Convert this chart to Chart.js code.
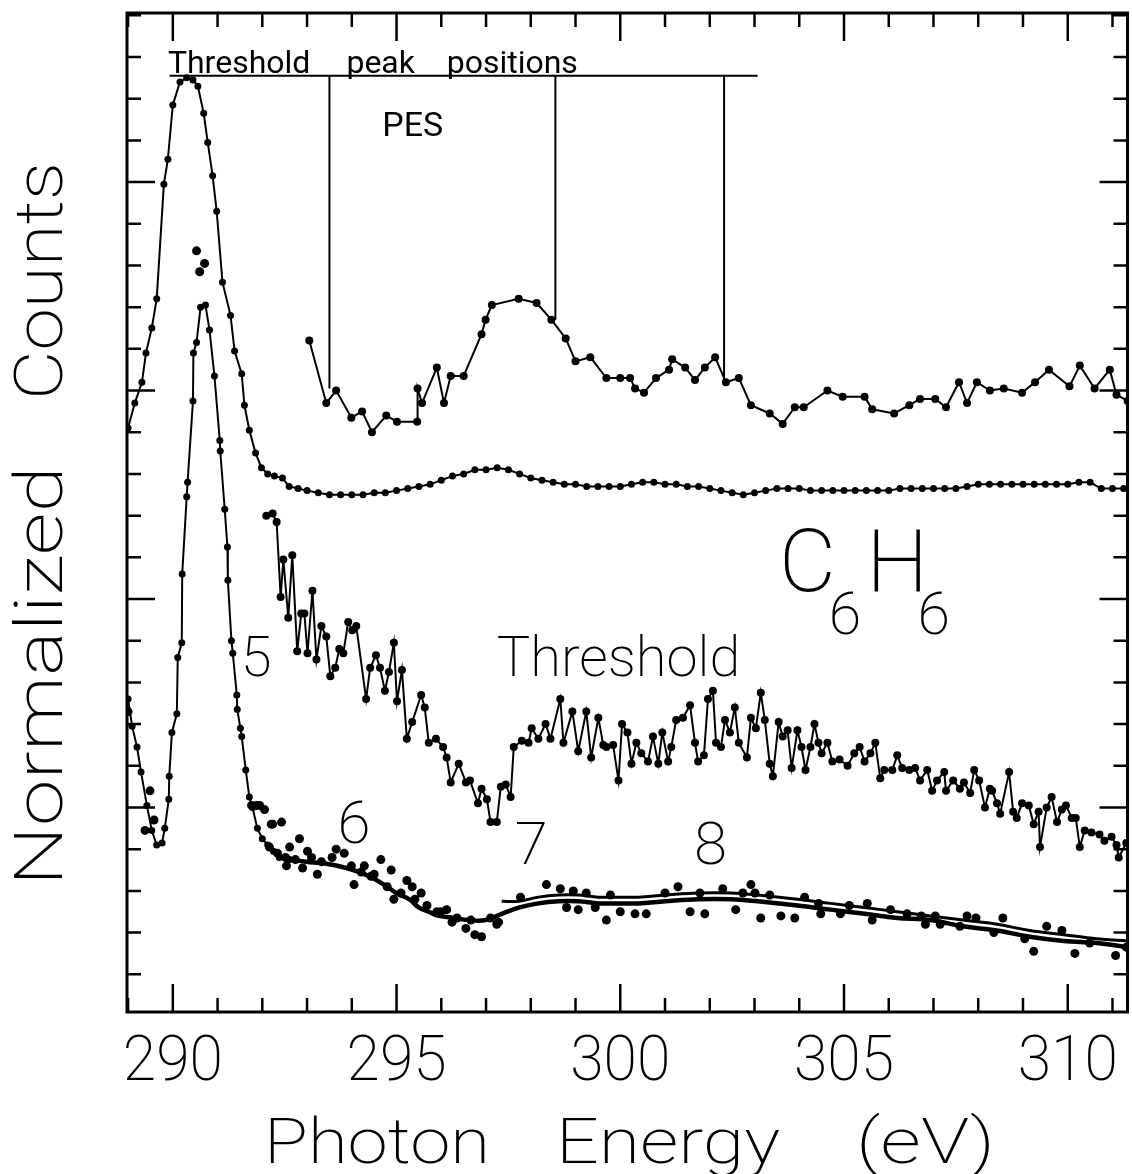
<!DOCTYPE html>
<html>
<head>
<meta charset="utf-8">
<title>C6H6 photon energy scan</title>
<script src="https://cdn.jsdelivr.net/npm/chart.js@4.4.1/dist/chart.umd.min.js"></script>
<style>
  html, body { margin: 0; padding: 0; background: #fff; }
  canvas { display: block; }
</style>
</head>
<body>
<canvas id="spectrum" width="1132" height="1174"></canvas>
<script>
// photon energy (eV) / normalized counts, one pair of arrays per trace

// total yield: big resonance then the flat continuum
const totalE = [289.00, 289.15, 289.31, 289.40, 289.53, 289.64, 289.80, 289.89, 290.00, 290.16,
  290.31, 290.45, 290.56, 290.69, 290.78, 290.89, 290.98, 291.11, 291.29, 291.38,
  291.54, 291.60, 291.71, 291.85, 291.98, 292.12, 292.27, 292.45,
  292.60, 292.80, 293.00, 293.25, 293.50, 293.75, 294.00, 294.25, 294.50, 294.75,
  295.00, 295.25, 295.50, 295.75, 296.00, 296.25, 296.50, 296.75, 297.00, 297.25,
  297.50, 297.75, 298.00, 298.25, 298.50, 298.75, 299.00, 299.25, 299.50, 299.75,
  300.00, 300.25, 300.50, 300.75, 301.00, 301.25, 301.50, 301.75, 302.00, 302.25,
  302.50, 302.75, 303.00, 303.25, 303.50, 303.75, 304.00, 304.25, 304.50, 304.75,
  305.00, 305.25, 305.50, 305.75, 306.00, 306.25, 306.50, 306.75, 307.00, 307.25,
  307.50, 307.75, 308.00, 308.25, 308.50, 308.75, 309.00, 309.25, 309.50, 309.75,
  310.00, 310.25, 310.50, 310.75, 311.00, 311.25];
const totalY = [2.82, 2.94, 3.04, 3.18, 3.30, 3.44, 3.99, 4.11, 4.37, 4.48,
  4.50, 4.49, 4.46, 4.33, 4.19, 4.03, 3.86, 3.52, 3.36, 3.19,
  3.08, 2.93, 2.81, 2.70, 2.63, 2.60, 2.59, 2.58,
  2.54, 2.53, 2.52, 2.51, 2.50, 2.50, 2.50, 2.50, 2.51, 2.51,
  2.52, 2.53, 2.54, 2.55, 2.57, 2.59, 2.60, 2.62, 2.62, 2.63,
  2.62, 2.60, 2.58, 2.57, 2.56, 2.55, 2.55, 2.54, 2.54, 2.54,
  2.54, 2.55, 2.56, 2.56, 2.55, 2.55, 2.54, 2.54, 2.53, 2.52,
  2.51, 2.50, 2.51, 2.52, 2.53, 2.53, 2.53, 2.52, 2.52, 2.52,
  2.52, 2.52, 2.52, 2.52, 2.52, 2.53, 2.53, 2.53, 2.53, 2.53,
  2.53, 2.54, 2.55, 2.55, 2.55, 2.55, 2.55, 2.55, 2.55, 2.55,
  2.55, 2.56, 2.56, 2.53, 2.53, 2.53];

// lower trace: resonance measured point by point
const peakE = [289.00, 289.09, 289.20, 289.29, 289.42, 289.53, 289.64, 289.76, 289.82, 289.91,
  289.92, 289.98, 290.09, 290.11, 290.20, 290.21, 290.31, 290.33, 290.45, 290.46,
  290.53, 290.62, 290.73, 290.82, 290.93, 291.05, 291.06, 291.16, 291.22, 291.23,
  291.31, 291.34, 291.43, 291.44, 291.51, 291.54, 291.63, 291.71, 291.78, 291.89,
  292.00, 292.12, 292.25, 292.38, 292.61];
const peakY = [1.52, 1.39, 1.29, 1.17, 1.01, 0.89, 0.82, 0.83, 0.90, 1.04,
  1.15, 1.36, 1.45, 1.72, 1.79, 2.12, 2.49, 2.56, 2.95, 3.18,
  3.23, 3.40, 3.41, 3.29, 3.07, 2.76, 2.71, 2.43, 2.25, 2.09,
  1.80, 1.74, 1.54, 1.47, 1.38, 1.34, 1.18, 1.05, 1.00, 0.90,
  0.85, 0.82, 0.79, 0.76, 0.75];

// lower trace: smooth curves through the scattered points
const fitE = [292.61, 292.98, 293.43, 293.88, 294.16, 294.39, 294.72, 294.99, 295.28, 295.50,
  295.72, 295.95, 296.28, 296.61, 296.99, 297.35, 297.73, 298.17, 298.62, 299.06,
  299.51, 299.96, 300.40, 301.00, 301.74, 302.47, 303.07, 303.96, 304.70, 305.46,
  306.19, 306.93, 307.66, 308.42, 309.15, 309.91, 310.65, 311.34];
const fitY = [0.75, 0.74, 0.73, 0.71, 0.69, 0.67, 0.63, 0.59, 0.56, 0.52,
  0.50, 0.48, 0.47, 0.46, 0.46, 0.49, 0.52, 0.54, 0.55, 0.55,
  0.54, 0.54, 0.54, 0.55, 0.56, 0.56, 0.55, 0.53, 0.51, 0.49,
  0.47, 0.46, 0.43, 0.41, 0.38, 0.36, 0.35, 0.33];
const fit2E = [297.35, 297.73, 298.17, 298.62, 299.06, 299.51, 299.96, 300.40, 301.00, 301.74,
  302.47, 303.07, 303.96, 304.70, 305.46, 306.19, 306.93, 307.66, 308.42, 309.15,
  309.91, 310.65, 311.34];
const fit2Y = [0.55, 0.55, 0.57, 0.58, 0.58, 0.57, 0.57, 0.57, 0.58, 0.59,
  0.59, 0.58, 0.56, 0.54, 0.52, 0.50, 0.48, 0.46, 0.44, 0.41,
  0.39, 0.37, 0.36];

// lower trace: individual points
const scatE = [290.53, 290.60, 290.71, 289.00, 289.38, 289.49, 289.58, 291.76, 291.87, 291.94,
  292.05, 292.20, 292.23, 292.43, 292.54, 292.61, 292.83, 292.90, 293.01, 293.23,
  293.65, 293.83, 294.05, 294.28, 294.50, 294.65, 294.88, 294.94, 295.23, 295.35,
  295.55, 295.90, 296.12, 296.24, 296.55, 296.75, 296.90, 297.24, 297.28, 297.77,
  298.35, 298.66, 298.80, 298.95, 299.06, 299.24, 299.44, 299.69, 299.78, 300.00,
  300.33, 300.58, 301.00, 301.29, 301.56, 301.78, 301.89, 302.29, 302.58, 302.74,
  302.92, 303.01, 303.14, 303.34, 303.59, 303.90, 304.12, 304.43, 304.48, 304.92,
  305.12, 305.52, 305.63, 306.04, 306.41, 306.73, 306.82, 307.04, 307.15, 307.59,
  307.75, 307.95, 308.35, 308.55, 309.04, 309.24, 309.53, 309.87, 310.16, 310.49,
  311.07, 311.31,
  292.16, 292.34, 292.52, 292.74, 293.10, 293.32, 293.56, 293.99, 294.21, 294.43,
  294.79, 295.10, 295.41, 295.68, 295.99, 296.35, 296.66, 297.10];
const scatY = [3.67, 3.57, 3.61, 1.46, 0.89, 1.08, 0.94, 1.01, 1.01, 1.01,
  0.99, 0.92, 0.92, 0.93, 0.72, 0.81, 0.85, 0.71, 0.79, 0.68,
  0.80, 0.78, 0.63, 0.72, 0.68, 0.75, 0.70, 0.56, 0.65, 0.62,
  0.59, 0.50, 0.51, 0.45, 0.42, 0.39, 0.38, 0.44, 0.45, 0.57,
  0.63, 0.61, 0.52, 0.60, 0.51, 0.59, 0.52, 0.46, 0.58, 0.50,
  0.49, 0.49, 0.59, 0.62, 0.50, 0.59, 0.49, 0.61, 0.51, 0.59,
  0.63, 0.59, 0.47, 0.58, 0.48, 0.47, 0.57, 0.54, 0.49, 0.49,
  0.53, 0.54, 0.46, 0.51, 0.49, 0.48, 0.44, 0.48, 0.44, 0.43,
  0.48, 0.47, 0.40, 0.47, 0.37, 0.31, 0.43, 0.41, 0.30, 0.35,
  0.29, 0.33,
  0.81, 0.78, 0.76, 0.75, 0.76, 0.74, 0.76, 0.72, 0.69, 0.67,
  0.62, 0.59, 0.56, 0.53, 0.50, 0.47, 0.46, 0.47];

// photoelectron spectrum
const pesE = [293.05, 293.43, 293.65, 293.99, 294.23, 294.45, 294.77, 295.01, 295.46, 295.47,
  295.57, 295.90, 296.06, 296.21, 296.50, 296.90, 296.99, 297.13, 297.73, 298.13,
  298.46, 298.78, 299.00, 299.33, 299.69, 300.00, 300.22, 300.33, 300.53, 300.80,
  301.09, 301.16, 301.45, 301.67, 301.89, 302.12, 302.36, 302.65, 302.92, 303.34,
  303.63, 303.90, 304.10, 304.63, 304.97, 305.46, 305.63, 306.12, 306.46, 306.70,
  307.04, 307.28, 307.57, 307.75, 307.97, 308.26, 308.57, 308.98, 309.27, 309.58,
  310.04, 310.27, 310.60, 310.94, 311.09, 311.34];
const pesY = [3.24, 2.94, 3.00, 2.87, 2.90, 2.80, 2.88, 2.85, 2.85, 3.01,
  2.94, 3.11, 2.94, 3.07, 3.07, 3.27, 3.34, 3.41, 3.44, 3.42,
  3.34, 3.25, 3.14, 3.16, 3.06, 3.06, 3.06, 3.01, 2.99, 3.06,
  3.10, 3.15, 3.11, 3.05, 3.11, 3.16, 3.04, 3.06, 2.93, 2.89,
  2.84, 2.92, 2.92, 3.00, 2.97, 2.97, 2.91, 2.89, 2.93, 2.96,
  2.96, 2.92, 3.04, 2.94, 3.04, 3.00, 3.01, 2.99, 3.04, 3.10,
  3.02, 3.12, 3.01, 3.10, 2.98, 2.95];

// threshold electron yield
const thrE = [292.09, 292.23, 292.32, 292.41, 292.47, 292.58, 292.67, 292.78, 292.87, 292.94,
  293.01, 293.12, 293.21, 293.32, 293.43, 293.52, 293.63, 293.72, 293.81, 293.92,
  294.01, 294.10, 294.32, 294.41, 294.54, 294.63, 294.74, 294.83, 294.94, 295.01,
  295.12, 295.23, 295.35, 295.55, 295.63, 295.72, 295.88, 296.04, 296.12, 296.21,
  296.39, 296.55, 296.64, 296.82, 296.90, 297.02, 297.10, 297.24, 297.33, 297.44,
  297.55, 297.62, 297.80, 297.95, 298.02, 298.17, 298.33, 298.44, 298.66, 298.73,
  298.93, 299.06, 299.24, 299.35, 299.51, 299.62, 299.69, 299.84, 299.96, 300.04,
  300.16, 300.25, 300.36, 300.47, 300.62, 300.73, 300.85, 300.94, 301.07, 301.14,
  301.25, 301.40, 301.56, 301.67, 301.74, 301.87, 301.96, 302.07, 302.14, 302.25,
  302.34, 302.45, 302.56, 302.65, 302.83, 302.92, 303.03, 303.14, 303.23, 303.34,
  303.41, 303.54, 303.63, 303.74, 303.83, 303.96, 304.05, 304.14, 304.25, 304.34,
  304.43, 304.50, 304.63, 304.74, 304.90, 305.08, 305.23, 305.35, 305.46, 305.59,
  305.70, 305.81, 305.90, 306.08, 306.19, 306.30, 306.46, 306.59, 306.70, 306.86,
  306.97, 307.08, 307.24, 307.28, 307.44, 307.59, 307.68, 307.82, 307.91, 308.02,
  308.15, 308.26, 308.31, 308.42, 308.49, 308.69, 308.78, 308.86, 308.98, 309.13,
  309.24, 309.35, 309.38, 309.53, 309.64, 309.76, 309.87, 309.96, 310.09, 310.18,
  310.27, 310.38, 310.53, 310.71, 310.82, 310.98, 311.09, 311.14, 311.31];
const thrY = [2.40, 2.41, 2.37, 2.01, 2.19, 1.91, 2.21, 1.75, 1.93, 1.93,
  1.74, 2.04, 1.71, 1.87, 1.82, 1.63, 1.67, 1.76, 1.74, 1.89,
  1.85, 1.87, 1.52, 1.67, 1.73, 1.67, 1.56, 1.65, 1.79, 1.51,
  1.66, 1.33, 1.41, 1.54, 1.48, 1.31, 1.33, 1.29, 1.24, 1.12,
  1.21, 1.12, 1.13, 1.02, 1.09, 1.04, 0.93, 0.93, 1.10, 1.11,
  1.05, 1.29, 1.32, 1.31, 1.38, 1.33, 1.40, 1.33, 1.52, 1.31,
  1.46, 1.27, 1.46, 1.24, 1.43, 1.30, 1.29, 1.30, 1.13, 1.40,
  1.36, 1.21, 1.31, 1.26, 1.22, 1.34, 1.21, 1.36, 1.22, 1.29,
  1.42, 1.43, 1.49, 1.31, 1.22, 1.25, 1.52, 1.56, 1.31, 1.29,
  1.42, 1.36, 1.48, 1.31, 1.24, 1.43, 1.38, 1.55, 1.42, 1.21,
  1.15, 1.41, 1.34, 1.37, 1.19, 1.37, 1.29, 1.18, 1.29, 1.40,
  1.31, 1.26, 1.31, 1.22, 1.23, 1.20, 1.26, 1.29, 1.22, 1.26,
  1.31, 1.14, 1.18, 1.18, 1.25, 1.19, 1.18, 1.19, 1.13, 1.18,
  1.08, 1.13, 1.17, 1.08, 1.13, 1.09, 1.12, 1.07, 1.18, 1.13,
  1.00, 1.09, 1.08, 1.02, 0.97, 1.17, 0.98, 0.95, 1.02, 1.01,
  0.92, 0.98, 0.81, 1.00, 1.05, 0.93, 0.99, 1.01, 0.95, 0.95,
  0.81, 0.89, 0.88, 0.87, 0.84, 0.86, 0.82, 0.76, 0.83];

// threshold peak positions marked against the PES trace
const markE = [293.50, 298.55, 302.32];
const markLow = [3.01, 3.34, 3.03];
const markTop = 4.51;
const markSpan = [289.93, 303.07];

const pts = (xs, ys) => xs.map((x, i) => ({ x, y: ys[i] }));

const FONT = 'Roboto, "DejaVu Sans", sans-serif';

// text placed in data coordinates
const notes = [
  { text: 'Threshold', e: 289.89, v: 4.525, size: 32, weight: 400 },
  { text: 'peak', e: 293.88, v: 4.525, size: 32, weight: 400 },
  { text: 'positions', e: 296.12, v: 4.525, size: 32, weight: 400 },
  { text: 'PES', e: 294.68, v: 4.22, size: 34, weight: 400 },
  { text: 'C', e: 303.55, v: 2.04, size: 88, weight: 200 },
  { text: 'H', e: 305.50, v: 2.04, size: 88, weight: 200 },
  { text: '6', e: 304.66, v: 1.83, size: 59, weight: 200 },
  { text: '6', e: 306.64, v: 1.83, size: 59, weight: 200 },
  { text: 'Threshold', e: 297.24, v: 1.63, size: 56, weight: 200 },
  { text: '5', e: 291.52, v: 1.63, size: 56, weight: 200 },
  { text: '6', e: 293.68, v: 0.83, size: 60, weight: 200 },
  { text: '7', e: 297.64, v: 0.73, size: 60, weight: 200 },
  { text: '8', e: 301.65, v: 0.73, size: 60, weight: 200 }
];

// draw a word stretched to a given width, starting at x
function fitWord(ctx, str, x, y, size, width) {
  ctx.save();
  ctx.font = `200 ${size}px ${FONT}`;
  ctx.textAlign = 'left';
  ctx.textBaseline = 'alphabetic';
  const w = ctx.measureText(str).width;
  ctx.translate(x, y);
  ctx.scale(width / w, 1);
  ctx.fillText(str, 0, 0);
  ctx.restore();
}

// boxed frame with inward ticks, tick labels, titles and annotations
const framePlugin = {
  id: 'frame',
  afterDraw(chart) {
    const { ctx, chartArea: a, scales: { x, y } } = chart;
    ctx.save();
    ctx.strokeStyle = '#000';
    ctx.fillStyle = '#000';
    ctx.lineWidth = 3;
    ctx.strokeRect(a.left, a.top, a.right - a.left, a.bottom - a.top);

    ctx.lineWidth = 2.5;
    ctx.beginPath();
    for (let v = Math.ceil(x.min); v <= x.max; v++) {
      const px = x.getPixelForValue(v);
      const len = v % 5 === 0 ? 28 : 14;
      ctx.moveTo(px, a.bottom); ctx.lineTo(px, a.bottom - len);
      ctx.moveTo(px, a.top); ctx.lineTo(px, a.top + len);
    }
    for (let k = 1; k * 0.2 <= y.max + 1e-6; k++) {
      const py = y.getPixelForValue(k * 0.2);
      const len = k % 5 === 0 ? 28 : 14;
      ctx.moveTo(a.left, py); ctx.lineTo(a.left + len, py);
      ctx.moveTo(a.right, py); ctx.lineTo(a.right - len, py);
    }
    ctx.stroke();

    for (let v = 290; v <= x.max; v += 5) {
      fitWord(ctx, String(v), x.getPixelForValue(v) - 50, 1080, 63, 100);
    }
    fitWord(ctx, 'Photon', 264, 1163, 63, 226);
    fitWord(ctx, 'Energy', 556, 1163, 63, 224);
    fitWord(ctx, '(eV)', 856, 1163, 63, 139);

    ctx.save();
    ctx.translate(62, 0);
    ctx.rotate(-Math.PI / 2);
    fitWord(ctx, 'Normalized', -886, 0, 66, 420);
    fitWord(ctx, 'Counts', -400, 0, 66, 238);
    ctx.restore();

    ctx.textAlign = 'left';
    ctx.textBaseline = 'alphabetic';
    notes.forEach(n => {
      ctx.font = `${n.weight} ${n.size}px ${FONT}`;
      ctx.fillText(n.text, x.getPixelForValue(n.e), y.getPixelForValue(n.v));
    });
    ctx.restore();
  }
};

const dotted = (data, r, w) => ({
  data, showLine: true, borderColor: '#000', backgroundColor: '#000',
  borderWidth: w, pointRadius: r, pointBorderWidth: 0, tension: 0
});
const smooth = (data, w) => ({
  data, showLine: true, borderColor: '#000', borderWidth: w,
  pointRadius: 0, tension: 0.4
});
const plain = (data) => ({
  data, showLine: true, borderColor: '#000', borderWidth: 2, pointRadius: 0
});

const datasets = [
  dotted(pts(totalE, totalY), 3.5, 2),
  dotted(pts(peakE, peakY), 3.5, 2),
  smooth(pts(fitE, fitY), 4.5),
  smooth(pts(fit2E, fit2Y), 3),
  { data: pts(scatE, scatY), showLine: false, backgroundColor: '#000', pointRadius: 4.5, pointBorderWidth: 0 },
  dotted(pts(pesE, pesY), 4, 2),
  dotted(pts(thrE, thrY), 4, 2),
  plain(markSpan.map(e => ({ x: e, y: markTop })))
].concat(markE.map((e, i) => plain([{ x: e, y: markTop }, { x: e, y: markLow[i] }])));

new Chart(document.getElementById('spectrum'), {
  type: 'scatter',
  data: { datasets },
  options: {
    responsive: false,
    devicePixelRatio: 1,
    animation: false,
    events: [],
    layout: { padding: { left: 127, top: 13, right: 1, bottom: 162 } },
    plugins: { legend: { display: false }, tooltip: { enabled: false } },
    scales: {
      x: { type: 'linear', min: 288.976, max: 311.336, display: false },
      y: { type: 'linear', min: 0.019, max: 4.811, display: false }
    }
  },
  plugins: [framePlugin]
});
</script>
</body>
</html>
